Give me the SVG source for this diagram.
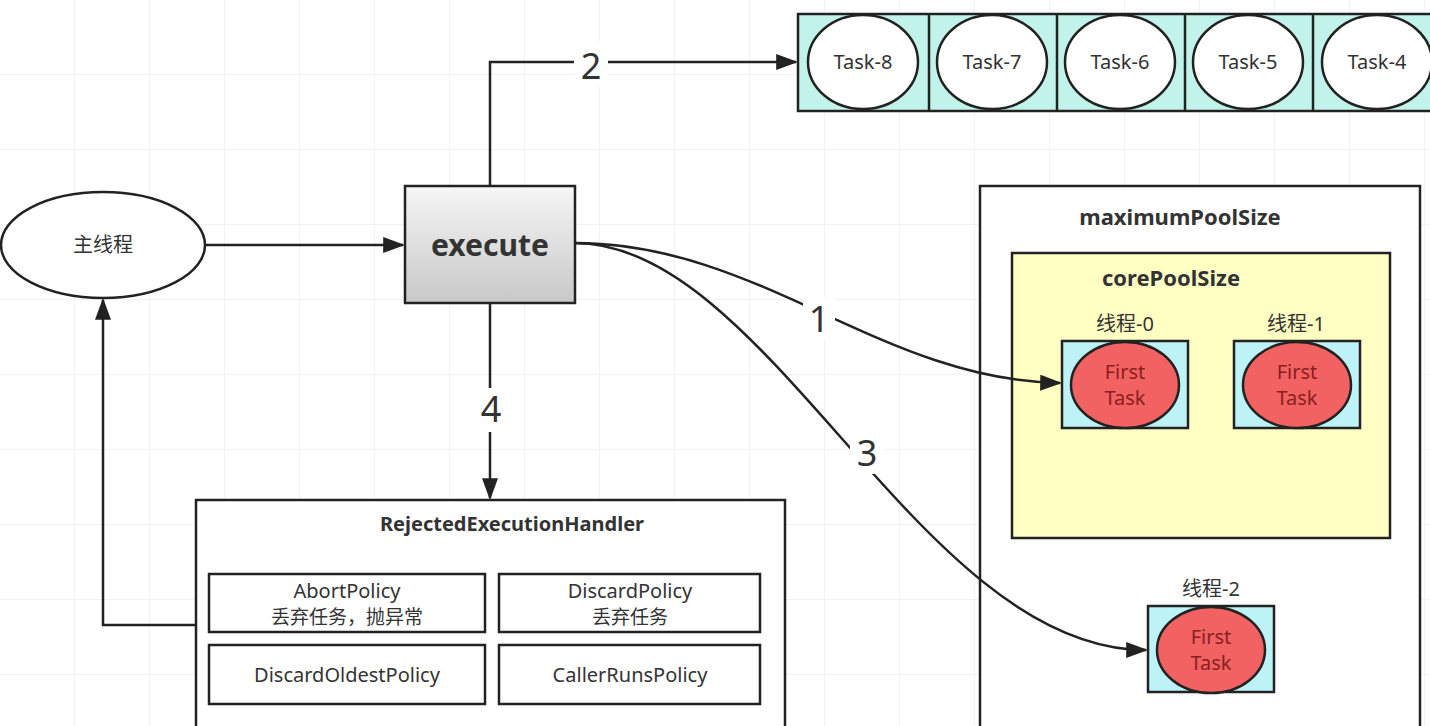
<svg xmlns="http://www.w3.org/2000/svg" width="1430" height="726" viewBox="0 0 1430 726">
<defs>
<style>
.bx{stroke:#222;stroke-width:2.5}
.ln{fill:none;stroke:#222;stroke-width:2.5}
.t{font-family:"Noto Sans","Noto Sans CJK SC",sans-serif;fill:#333;text-anchor:middle}
.b{font-weight:bold}
.num{font-family:"Noto Sans",sans-serif;font-size:36px;fill:#333;text-anchor:middle}
.ft{font-family:"Noto Sans",sans-serif;font-size:20px;fill:#8a2020;text-anchor:middle}
</style>
<linearGradient id="g" x1="0" y1="0" x2="0" y2="1">
<stop offset="0" stop-color="#f6f6f6"/>
<stop offset="1" stop-color="#c8c8c8"/>
</linearGradient>
<marker id="A" viewBox="0 0 10 10" refX="9" refY="5" markerWidth="22" markerHeight="16" markerUnits="userSpaceOnUse" orient="auto" preserveAspectRatio="none">
<path d="M0,0 L10,5 L0,10 z" fill="#222"/>
</marker>
<pattern id="grid" width="75" height="75" patternUnits="userSpaceOnUse">
<path d="M75,0 V75 M0,75 H75" fill="none" stroke="#eeeeee" stroke-width="1.5"/>
</pattern>
</defs>
<rect width="1430" height="726" fill="#fff"/>
<rect width="1430" height="726" fill="url(#grid)"/>

<g id="main-thread">
<ellipse class="bx" cx="103" cy="245" rx="102" ry="53" fill="#fff"/>
<text class="t" x="103" y="252" font-size="20">主线程</text>
</g>

<g id="execute">
<rect class="bx" x="405" y="186" width="170" height="117" fill="url(#g)"/>
<text class="t b" x="490" y="256" font-size="30" fill="#333">execute</text>
</g>

<g id="queue">
<rect class="bx" x="798" y="14" width="640" height="97" fill="#c2f3eb"/>
<path class="ln" d="M929,14 V111 M1057,14 V111 M1185,14 V111 M1313,14 V111"/>
<ellipse class="bx" cx="863" cy="62" rx="55" ry="47" fill="#fff"/>
<ellipse class="bx" cx="992" cy="62" rx="55" ry="47" fill="#fff"/>
<ellipse class="bx" cx="1120" cy="62" rx="55" ry="47" fill="#fff"/>
<ellipse class="bx" cx="1248" cy="62" rx="55" ry="47" fill="#fff"/>
<ellipse class="bx" cx="1377" cy="62" rx="55" ry="47" fill="#fff"/>
<text class="t" x="863" y="69" font-size="20">Task-8</text>
<text class="t" x="992" y="69" font-size="20">Task-7</text>
<text class="t" x="1120" y="69" font-size="20">Task-6</text>
<text class="t" x="1248" y="69" font-size="20">Task-5</text>
<text class="t" x="1377" y="69" font-size="20">Task-4</text>
</g>

<g id="handler">
<rect class="bx" x="196" y="500" width="589" height="240" fill="#fff"/>
<text class="t b" x="512" y="531" font-size="20">RejectedExecutionHandler</text>
<rect class="bx" x="209" y="574" width="276" height="58" fill="#fff"/>
<text class="t" x="347" y="598" font-size="20">AbortPolicy</text>
<text class="t" x="347" y="624" font-size="19">丢弃任务，抛异常</text>
<rect class="bx" x="499" y="574" width="261" height="58" fill="#fff"/>
<text class="t" x="630" y="598" font-size="20">DiscardPolicy</text>
<text class="t" x="630" y="624" font-size="19">丢弃任务</text>
<rect class="bx" x="209" y="645" width="276" height="59" fill="#fff"/>
<text class="t" x="347" y="682" font-size="20">DiscardOldestPolicy</text>
<rect class="bx" x="499" y="645" width="261" height="59" fill="#fff"/>
<text class="t" x="630" y="682" font-size="20">CallerRunsPolicy</text>
</g>

<g id="max-pool">
<rect class="bx" x="980" y="186" width="440" height="560" fill="#fff"/>
<text class="t b" x="1180" y="225" font-size="22">maximumPoolSize</text>
</g>

<g id="core-pool">
<rect class="bx" x="1012" y="253" width="378" height="285" fill="#ffffc4"/>
<text class="t b" x="1171" y="286" font-size="22" fill="#3a3a10">corePoolSize</text>
</g>

<g id="thread-0">
<text class="t" x="1125" y="331" font-size="20">线程-0</text>
<rect class="bx" x="1062" y="341" width="126" height="87" fill="#bdf2f6"/>
<ellipse class="bx" cx="1125" cy="385" rx="54" ry="43" fill="#f26262"/>
<text class="ft" x="1125" y="379">First</text>
<text class="ft" x="1125" y="405">Task</text>
</g>

<g id="thread-1">
<text class="t" x="1296" y="331" font-size="20">线程-1</text>
<rect class="bx" x="1234" y="341" width="126" height="87" fill="#bdf2f6"/>
<ellipse class="bx" cx="1297" cy="385" rx="54" ry="43" fill="#f26262"/>
<text class="ft" x="1297" y="379">First</text>
<text class="ft" x="1297" y="405">Task</text>
</g>

<g id="thread-2">
<text class="t" x="1211" y="596" font-size="20">线程-2</text>
<rect class="bx" x="1148" y="606" width="126" height="86" fill="#bdf2f6"/>
<ellipse class="bx" cx="1211" cy="650" rx="54" ry="43" fill="#f26262"/>
<text class="ft" x="1211" y="644">First</text>
<text class="ft" x="1211" y="670">Task</text>
</g>

<g id="connectors">
<path class="ln" d="M490,185 V62 H796" marker-end="url(#A)"/>
<rect x="574" y="42" width="34" height="44" fill="#fff"/>
<text class="num" x="591" y="79">2</text>
<path class="ln" d="M205,245 H403" marker-end="url(#A)"/>
<path class="ln" d="M490,303 V498" marker-end="url(#A)"/>
<rect x="474" y="388" width="34" height="44" fill="#fff"/>
<text class="num" x="491" y="422">4</text>
<path class="ln" d="M196,625 H103 V300" marker-end="url(#A)"/>
<path class="ln" d="M575,243 C760,243 880,380 1060,383" marker-end="url(#A)"/>
<rect x="803" y="298" width="32" height="42" fill="#fff"/>
<text class="num" x="819" y="332">1</text>
<path class="ln" d="M575,243 C770,243 920,650 1146,650" marker-end="url(#A)"/>
<rect x="850" y="432" width="34" height="42" fill="#fff"/>
<text class="num" x="867" y="466">3</text>
</g>
</svg>
